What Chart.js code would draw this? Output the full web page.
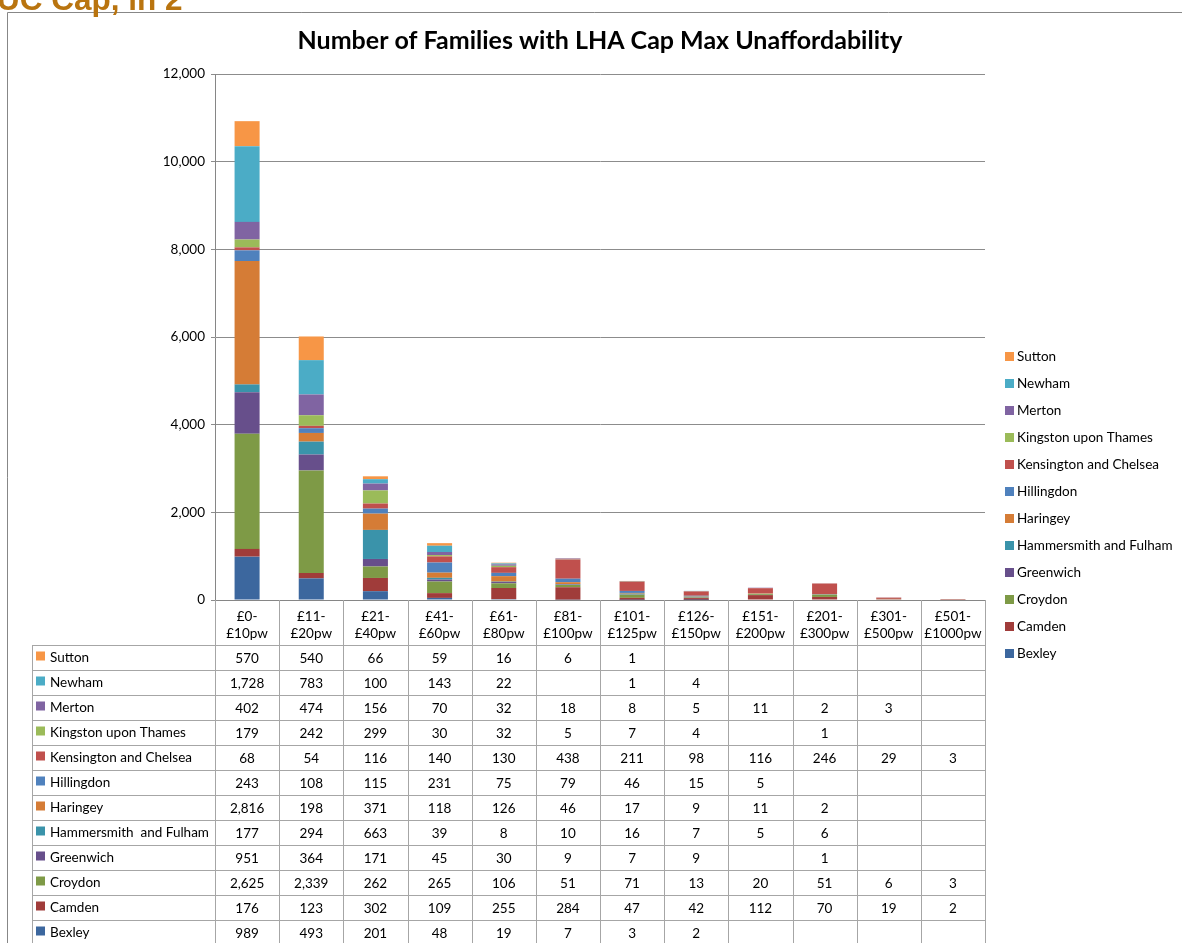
<!DOCTYPE html>
<html>
<head>
<meta charset="utf-8">
<script src="https://cdn.jsdelivr.net/npm/chart.js@4/dist/chart.umd.min.js"></script>
<style>
  html, body { margin: 0; padding: 0; background: #fff; overflow: hidden; }
  #wrap { position: relative; width: 1182px; height: 943px; }
  #cut { position: absolute; left: -3px; top: -17px; font: bold 31.5px "Liberation Sans", Arial, sans-serif;
         line-height: 32px; color: #B9740F; white-space: nowrap; }
  canvas { position: absolute; left: 0; top: 0; }
</style>
</head>
<body>
<div id="wrap">
  <canvas id="canvas" width="1182" height="943"></canvas>
  <div id="cut">UC Cap, in 2</div>
</div>
<script>
const categories = [['£0-','£10pw'],['£11-','£20pw'],['£21-','£40pw'],['£41-','£60pw'],['£61-','£80pw'],['£81-','£100pw'],
  ['£101-','£125pw'],['£126-','£150pw'],['£151-','£200pw'],['£201-','£300pw'],['£301-','£500pw'],['£501-','£1000pw']];

// bottom of stack first
const bexley      = [989, 493, 201, 48, 19, 7, 3, 2, null, null, null, null];
const camden      = [176, 123, 302, 109, 255, 284, 47, 42, 112, 70, 19, 2];
const croydon     = [2625, 2339, 262, 265, 106, 51, 71, 13, 20, 51, 6, 3];
const greenwich   = [951, 364, 171, 45, 30, 9, 7, 9, null, 1, null, null];
const hammersmith = [177, 294, 663, 39, 8, 10, 16, 7, 5, 6, null, null];
const haringey    = [2816, 198, 371, 118, 126, 46, 17, 9, 11, 2, null, null];
const hillingdon  = [243, 108, 115, 231, 75, 79, 46, 15, 5, null, null, null];
const kensington  = [68, 54, 116, 140, 130, 438, 211, 98, 116, 246, 29, 3];
const kingston    = [179, 242, 299, 30, 32, 5, 7, 4, null, 1, null, null];
const merton      = [402, 474, 156, 70, 32, 18, 8, 5, 11, 2, 3, null];
const newham      = [1728, 783, 100, 143, 22, null, 1, 4, null, null, null, null];
const sutton      = [570, 540, 66, 59, 16, 6, 1, null, null, null, null, null];

const seriesNames = ['Bexley','Camden','Croydon','Greenwich','Hammersmith  and Fulham','Haringey','Hillingdon',
  'Kensington and Chelsea','Kingston upon Thames','Merton','Newham','Sutton'];
const seriesData = [bexley, camden, croydon, greenwich, hammersmith, haringey, hillingdon,
  kensington, kingston, merton, newham, sutton];
const seriesColors = ['#3C679E','#A03C3A','#7E9A46','#674F8B','#3A93AA','#D57C36',
  '#4F81BD','#C0504D','#9BBB59','#8064A2','#4BACC6','#F79646'];

const yTicks = [0, 2000, 4000, 6000, 8000, 10000, 12000];

const FONT = 'Lato, "Open Sans", sans-serif';
Chart.defaults.font.family = FONT;
Chart.defaults.color = '#000';

// frame + legend + data table, lined up on the x scale
const extras = {
  id: 'extras',
  beforeDraw(chart) {
    const ctx = chart.ctx;
    ctx.save();
    ctx.fillStyle = '#fff';
    ctx.fillRect(0, 0, chart.width, chart.height);
    ctx.strokeStyle = '#878787';
    ctx.lineWidth = 1;
    ctx.beginPath();
    ctx.moveTo(7.5, chart.height); ctx.lineTo(7.5, 12.5); ctx.lineTo(chart.width, 12.5);
    ctx.stroke();
    ctx.restore();
  },
  afterDraw(chart) {
    const ctx = chart.ctx, x = chart.scales.x, area = chart.chartArea;
    const n = categories.length;
    const colW = x.getPixelForValue(1) - x.getPixelForValue(0);
    const edges = [];
    for (let i = 0; i <= n; i++) edges.push(x.getPixelForValue(0) - colW / 2 + i * colW);
    const headBottom = area.bottom + 45, rowH = 25, tableLeft = 32;
    const rows = seriesNames.length;
    ctx.save();
    ctx.strokeStyle = '#A6A6A6';
    ctx.lineWidth = 1;
    ctx.beginPath();
    for (const e of edges) {
      const px = Math.round(e) + 0.5;
      ctx.moveTo(px, area.bottom); ctx.lineTo(px, chart.height);
    }
    ctx.moveTo(tableLeft + 0.5, headBottom); ctx.lineTo(tableLeft + 0.5, chart.height);
    for (let r = 0; r <= rows; r++) {
      const py = headBottom + r * rowH + 0.5;
      ctx.moveTo(tableLeft, py); ctx.lineTo(Math.round(edges[n]) + 1, py);
    }
    ctx.stroke();

    ctx.font = '13.5px ' + FONT;
    ctx.textBaseline = 'middle';
    for (let r = 0; r < rows; r++) {
      const s = rows - 1 - r;
      const cy = headBottom + r * rowH + rowH / 2;
      ctx.fillStyle = seriesColors[s];
      ctx.fillRect(36, cy - 6, 9, 9);
      ctx.fillStyle = '#000';
      ctx.textAlign = 'left';
      ctx.fillText(seriesNames[s], 50, cy);
      ctx.textAlign = 'center';
      seriesData[s].forEach((v, i) => {
        if (v === null) return;
        ctx.fillText(v.toLocaleString('en-US'), x.getPixelForValue(i), cy + 1);
      });
    }

    // legend, top to bottom in reverse stack order
    ctx.font = '13.5px ' + FONT;
    ctx.textAlign = 'left';
    for (let k = 0; k < rows; k++) {
      const s = rows - 1 - k;
      const cy = 357 + k * 27;
      ctx.fillStyle = seriesColors[s];
      ctx.fillRect(1005, cy - 5, 9, 9);
      ctx.fillStyle = '#000';
      ctx.fillText(seriesNames[s].replace('  ', ' '), 1017, cy);
    }
    ctx.restore();
  }
};

const ctx = document.getElementById('canvas').getContext('2d');
new Chart(ctx, {
  type: 'bar',
  data: {
    labels: categories,
    datasets: seriesNames.map((name, i) => ({
      label: name,
      data: seriesData[i],
      backgroundColor: seriesColors[i],
      borderWidth: 0
    }))
  },
  options: {
    responsive: false,
    animation: false,
    layout: { padding: { left: 0, right: 197, top: 0, bottom: 0 } },
    categoryPercentage: 1,
    barPercentage: 0.39,
    plugins: {
      legend: { display: false },
      tooltip: { enabled: false },
      title: {
        display: true,
        fullSize: false,
        text: 'Number of Families with LHA Cap Max Unaffordability',
        color: '#000',
        font: { size: 25, weight: 'bold', family: FONT, lineHeight: 1.2 },
        padding: { top: 26, bottom: 18 }
      }
    },
    scales: {
      x: {
        stacked: true,
        grid: { display: false, drawTicks: false, tickLength: 0 },
        border: { display: true, color: '#868686', width: 1 },
        ticks: { autoSkip: false, maxRotation: 0, minRotation: 0, padding: 9,
                 font: { size: 13.5, lineHeight: 1.2 } },
        afterFit(s) { s.height = 343; }
      },
      y: {
        stacked: true,
        min: 0,
        max: 12000,
        afterBuildTicks(s) { s.ticks = yTicks.map(v => ({ value: v })); },
        grid: { color: '#8C8C8C', tickLength: 4 },
        border: { display: true, color: '#868686', width: 1 },
        ticks: { padding: 6, font: { size: 13.5 }, callback: v => v.toLocaleString('en-US') },
        afterFit(s) { s.width = 215; }
      }
    }
  },
  plugins: [extras]
});
</script>
</body>
</html>
